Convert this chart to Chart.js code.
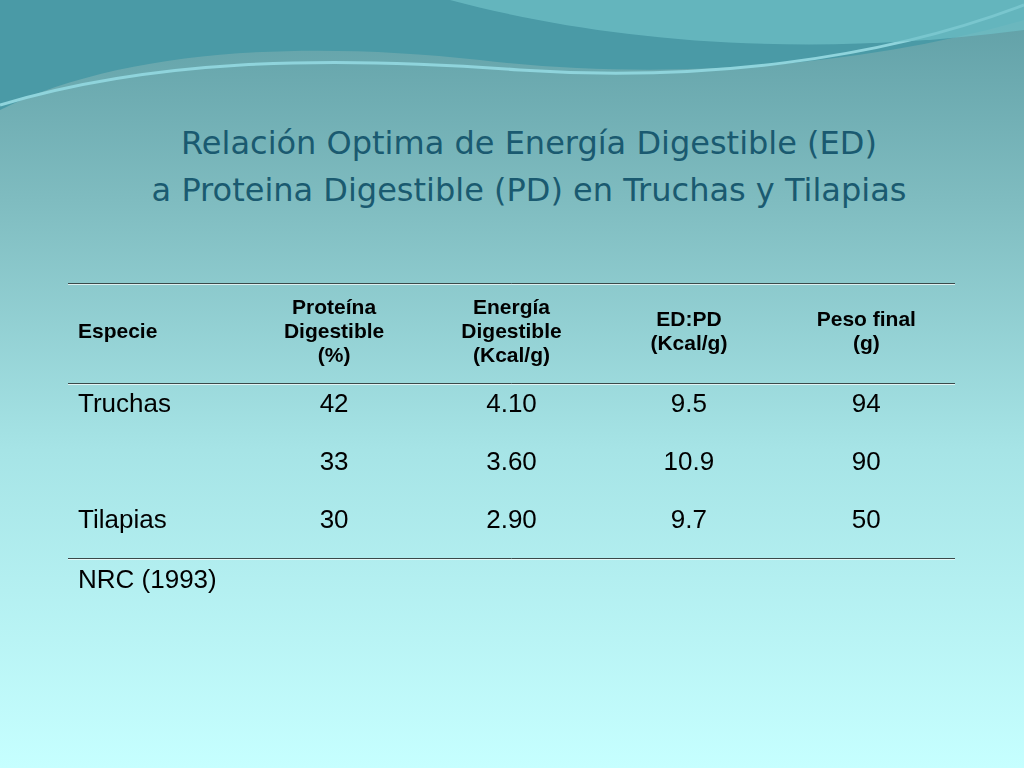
<!DOCTYPE html>
<html><head><meta charset="utf-8">
<script src="https://cdn.jsdelivr.net/npm/chart.js@4/dist/chart.umd.min.js"></script>
<style>
html,body{margin:0;padding:0;width:1024px;height:768px;overflow:hidden;font-family:"Liberation Sans",Arial,sans-serif}
body{background:linear-gradient(#5f9ea5 0px,#7fbcc0 200px,#a6e4e6 450px,#c6ffff 768px)}
#wave{position:absolute;left:0;top:0}
#title{position:absolute;left:0;width:1058px;top:120px;text-align:center;color:#1a5a70;font-family:"DejaVu Sans",sans-serif;font-size:32px;line-height:47px}
#wrap{position:absolute;left:0;top:0;width:1024px;height:768px}
</style></head><body>
<svg id="wave" width="1024" height="130">
<path d="M0 0 H1024 V20 C850 70 650 80 480 60 C300 40 120 50 0 110 Z" fill="#4a9aa6"/>
<path d="M0 105 C150 60 320 55 520 70 C700 82 880 60 1024 5" stroke="#8fd4dc" stroke-width="3" fill="none"/>
<path d="M450 0 C600 40 800 60 1024 30 V0 Z" fill="#6fc0c8" opacity="0.7"/>
</svg>
<div id="title">Relación Optima de Energía Digestible (ED)<br>a Proteina Digestible (PD) en Truchas y Tilapias</div>
<div id="wrap"><canvas id="c" width="1024" height="768"></canvas></div>
<script>
const columns = ['Especie', 'Proteína\nDigestible\n(%)', 'Energía\nDigestible\n(Kcal/g)', 'ED:PD\n(Kcal/g)', 'Peso final\n(g)'];
const species = ['Truchas', '', 'Tilapias'];
const protein = ['42', '33', '30'];
const energy = ['4.10', '3.60', '2.90'];
const ratio = ['9.5', '10.9', '9.7'];
const weight = ['94', '90', '50'];
const source = 'NRC (1993)';

const tablePlugin = {
  id: 'table',
  afterDraw(chart) {
    const ctx = chart.ctx, x = chart.scales.x, y = chart.scales.y;
    const a = chart.chartArea;
    ctx.save();
    ctx.fillStyle = '#000';
    ctx.textBaseline = 'middle';
    // header
    ctx.font = 'bold 21px "Liberation Sans", Arial';
    columns.forEach((c, i) => {
      const lines = c.split('\n');
      const cy = y.getPixelForValue(-0.24);
      ctx.textAlign = i === 0 ? 'left' : 'center';
      lines.forEach((l, k) => {
        ctx.fillText(l, i === 0 ? a.left + 10 : x.getPixelForValue(i), cy + (k - (lines.length - 1) / 2) * 24);
      });
    });
    // body
    ctx.font = '26px "Liberation Sans", Arial';
    const cols = [species, protein, energy, ratio, weight];
    for (let r = 0; r < 3; r++) {
      cols.forEach((col, i) => {
        ctx.textAlign = i === 0 ? 'left' : 'center';
        ctx.fillText(col[r], i === 0 ? a.left + 10 : x.getPixelForValue(i), y.getPixelForValue(r + 1));
      });
    }
    ctx.textAlign = 'left';
    ctx.fillText(source, a.left + 10, y.getPixelForValue(4.03));
    // rules
    const lineAt = (v) => {
      const py = Math.round(y.getPixelForValue(v)) + 0.5;
      ctx.strokeStyle = '#3a4a4a'; ctx.lineWidth = 1;
      ctx.beginPath(); ctx.moveTo(a.left, py); ctx.lineTo(a.right, py); ctx.stroke();
      ctx.strokeStyle = 'rgba(255,255,255,0.7)';
      ctx.beginPath(); ctx.moveTo(a.left, py + 1); ctx.lineTo(a.right, py + 1); ctx.stroke();
    };
    lineAt(-1.1);
    lineAt(0.62);
    lineAt(3.64);
    ctx.restore();
  }
};

new Chart(document.getElementById('c'), {
  type: 'scatter',
  data: { datasets: [{ data: [], pointRadius: 0 }] },
  options: {
    responsive: false, animation: false,
    layout: { padding: { left: 68, right: 69, top: 277, bottom: 172 } },
    plugins: { legend: { display: false }, tooltip: { enabled: false } },
    scales: {
      x: { type: 'linear', min: -0.5, max: 4.5, display: false },
      y: { type: 'linear', min: -1.2, max: 4.3, reverse: true, display: false }
    }
  },
  plugins: [tablePlugin]
});
</script>
</body></html>
